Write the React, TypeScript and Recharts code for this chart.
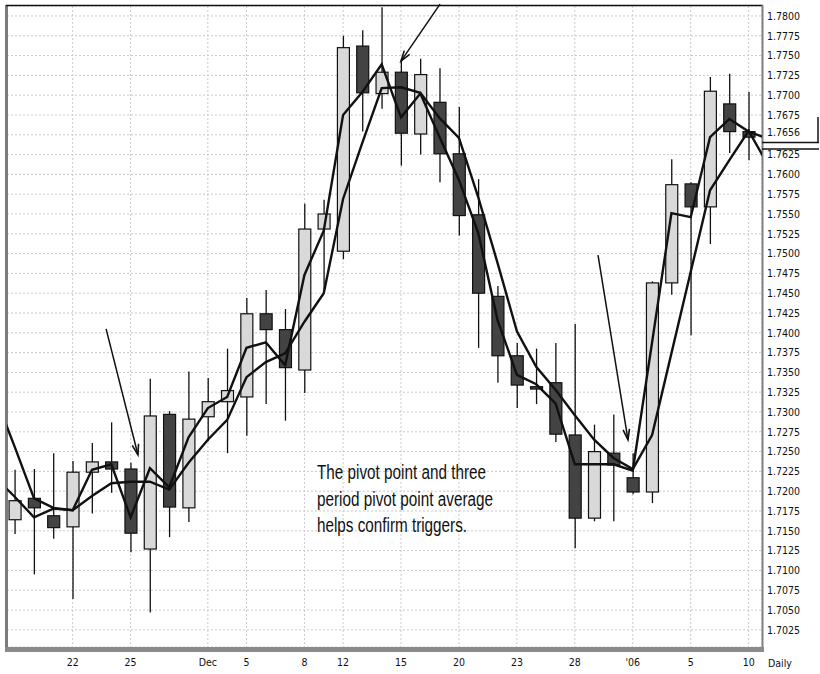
import React from 'react';
import {
  ComposedChart,
  Bar,
  Line,
  XAxis,
  YAxis,
  CartesianGrid,
  ReferenceLine,
  Customized,
} from 'recharts';

// daily candles, one per trading day (Nov 17 .. Jan 10)
const open = [1.7164, 1.7191, 1.7169, 1.7155, 1.7224, 1.7237, 1.7228, 1.7127, 1.7297, 1.7179, 1.7294, 1.7313, 1.7319, 1.7424, 1.7404, 1.7353, 1.7531, 1.7503, 1.7762, 1.7702, 1.7729, 1.7651, 1.7691, 1.7626, 1.7549, 1.7446, 1.7371, 1.7332, 1.7337, 1.7271, 1.7166, 1.7248, 1.7217, 1.7199, 1.7463, 1.7588, 1.7559, 1.7689, 1.7654];
const high = [1.7227, 1.7228, 1.7248, 1.7238, 1.7261, 1.7287, 1.7236, 1.7342, 1.7301, 1.7351, 1.7343, 1.738, 1.7444, 1.7454, 1.743, 1.7563, 1.7568, 1.7775, 1.7782, 1.7811, 1.7743, 1.7746, 1.7734, 1.7685, 1.7594, 1.7459, 1.7387, 1.738, 1.7387, 1.7411, 1.7284, 1.7297, 1.7248, 1.7465, 1.7619, 1.759, 1.7723, 1.7727, 1.7704];
const low = [1.7146, 1.7095, 1.714, 1.7064, 1.7172, 1.7198, 1.7123, 1.7047, 1.7142, 1.7161, 1.7263, 1.7248, 1.727, 1.731, 1.7289, 1.7324, 1.7454, 1.7493, 1.7654, 1.7683, 1.7611, 1.7625, 1.759, 1.7523, 1.7381, 1.7337, 1.7305, 1.731, 1.7262, 1.7128, 1.7162, 1.7162, 1.7196, 1.7185, 1.7448, 1.7397, 1.7512, 1.7627, 1.7618];
const close = [1.7188, 1.7179, 1.7154, 1.7224, 1.7237, 1.7228, 1.7147, 1.7295, 1.718, 1.7291, 1.7313, 1.7327, 1.7424, 1.7404, 1.7356, 1.7531, 1.755, 1.776, 1.7703, 1.7729, 1.7652, 1.7726, 1.7626, 1.7548, 1.745, 1.7371, 1.7334, 1.7329, 1.7272, 1.7166, 1.725, 1.7233, 1.7199, 1.7463, 1.7587, 1.7559, 1.7705, 1.7654, 1.7647];

// pivot point and its 3 period average, one extra day on each side (clipped off)
const pivot = [1.7217, 1.7193, 1.7167, 1.7178, 1.7176, 1.7227, 1.7234, 1.7167, 1.7229, 1.7205, 1.7268, 1.7305, 1.7319, 1.7381, 1.7388, 1.7359, 1.7473, 1.7529, 1.7675, 1.7704, 1.7739, 1.7672, 1.7702, 1.7647, 1.7593, 1.7526, 1.7416, 1.7347, 1.7335, 1.7311, 1.7234, 1.7234, 1.7234, 1.7226, 1.7388, 1.7551, 1.7546, 1.7647, 1.767, 1.7654, 1.7645];
const pivotAvg = [1.7319, 1.7256, 1.7191, 1.7179, 1.7176, 1.7194, 1.721, 1.7212, 1.7212, 1.7202, 1.7236, 1.7265, 1.729, 1.7344, 1.7363, 1.7374, 1.7414, 1.745, 1.7569, 1.764, 1.7709, 1.771, 1.7703, 1.7671, 1.7646, 1.7571, 1.7488, 1.7402, 1.7357, 1.7328, 1.7296, 1.7265, 1.7242, 1.7228, 1.7271, 1.7374, 1.7477, 1.758, 1.7618, 1.7655, 1.7612];

const tickDays = [3, 6, 10, 12, 15, 17, 20, 23, 26, 29, 32, 35, 38];
const tickLabels = ['22', '25', 'Dec', '5', '8', '12', '15', '20', '23', '28', "'06", '5', '10'];

const priceTicks = [1.7025, 1.705, 1.7075, 1.71, 1.7125, 1.715, 1.7175, 1.72, 1.7225, 1.725, 1.7275, 1.73, 1.7325, 1.735, 1.7375, 1.74, 1.7425, 1.745, 1.7475, 1.75, 1.7525, 1.755, 1.7575, 1.76, 1.7625, 1.765, 1.7675, 1.77, 1.7725, 1.775, 1.7775, 1.78];

const lastPrice = 1.7656;

const arrows = [
  { from: [4.73, 1.7405], to: [6.38, 1.7246] },
  { from: [22.02, 1.7815], to: [20.0, 1.7743] },
  { from: [30.2, 1.7498], to: [31.75, 1.7265] },
];

const note = ['The pivot point and three', 'period pivot point average', 'helps confirm triggers.'];

const rows = pivot.map((p, k) => {
  const i = k - 1;
  const has = i >= 0 && i < open.length;
  return {
    day: i,
    open: has ? open[i] : null,
    high: has ? high[i] : null,
    low: has ? low[i] : null,
    close: has ? close[i] : null,
    pivot: p,
    avg: pivotAvg[k],
  };
});

const axisFont = { fontFamily: '"DejaVu Sans Condensed", "DejaVu Sans", sans-serif', fontSize: 10.5, fill: '#111' };

const Candle = (props: any) => {
  const { x, y, width, height, payload } = props;
  if (!payload || payload.open == null || !height) return <g />;
  const { open: o, high: h, low: l, close: c } = payload;
  const ppu = height / (h - l);
  const cx = x + width / 2;
  const top = y + (h - Math.max(o, c)) * ppu;
  const bot = y + (h - Math.min(o, c)) * ppu;
  const bw = 12;
  return (
    <g>
      <line x1={cx} x2={cx} y1={y} y2={y + height} stroke="#111" strokeWidth={1.3} />
      <rect
        x={cx - bw / 2}
        y={top}
        width={bw}
        height={Math.max(bot - top, 1.5)}
        fill={c >= o ? '#d9d9d9' : '#434343'}
        stroke="#111"
        strokeWidth={1.2}
      />
    </g>
  );
};

const Arrow = (props: any) => {
  const { x1, y1, x2, y2 } = props;
  const ang = Math.atan2(y2 - y1, x2 - x1);
  const len = 11;
  const spread = 0.3;
  const ax = x2 - len * Math.cos(ang - spread);
  const ay = y2 - len * Math.sin(ang - spread);
  const bx = x2 - len * Math.cos(ang + spread);
  const by = y2 - len * Math.sin(ang + spread);
  return (
    <g>
      <line x1={x1} y1={y1} x2={x2} y2={y2} stroke="#111" strokeWidth={1.5} />
      <polyline points={`${ax},${ay} ${x2},${y2} ${bx},${by}`} fill="none" stroke="#111" strokeWidth={1.6} />
    </g>
  );
};

const Overlay = () => (
  <g>
    {/* frame */}
    <line x1={6.5} x2={6.5} y1={5} y2={652} stroke="#7c7c7c" strokeWidth={3} />
    <line x1={6} x2={763} y1={5.5} y2={5.5} stroke="#111" strokeWidth={1.5} />
    <line x1={762.5} x2={762.5} y1={5} y2={652} stroke="#808080" strokeWidth={2} />
    <line x1={5} x2={764} y1={649.5} y2={649.5} stroke="#8a8a8a" strokeWidth={5} />
    {/* last price marker */}
    <rect x={764} y={117} width={54} height={32} fill="#fff" />
    <line x1={818} x2={818} y1={117} y2={143} stroke="#111" strokeWidth={1.5} />
    <line x1={762} x2={819} y1={142.5} y2={142.5} stroke="#111" strokeWidth={1.6} />
    <line x1={762} x2={819} y1={149} y2={149} stroke="#111" strokeWidth={1.4} />
    <text x={767} y={136} {...axisFont}>
      {lastPrice.toFixed(4)}
    </text>
    <text x={768} y={667} {...axisFont}>
      Daily
    </text>
    {/* annotation */}
    <text fontFamily='"Liberation Sans", Arial, sans-serif' fontSize={20} fill="#111">
      <tspan x={317} y={479} textLength={169} lengthAdjust="spacingAndGlyphs">{note[0]}</tspan>
      <tspan x={317} y={506} textLength={176} lengthAdjust="spacingAndGlyphs">{note[1]}</tspan>
      <tspan x={317} y={532} textLength={150} lengthAdjust="spacingAndGlyphs">{note[2]}</tspan>
    </text>
  </g>
);

export default function App() {
  return (
    <div style={{ position: 'absolute', left: 0, top: 0, width: 820, height: 674, background: '#fff' }}>
      <ComposedChart width={820} height={674} data={rows} margin={{ top: 6, left: 7, right: 0, bottom: 0 }}>
        <CartesianGrid stroke="#c9c9c9" strokeDasharray="2 2" />
        <XAxis
          dataKey="day"
          type="number"
          domain={[-0.4, 38.69]}
          allowDataOverflow
          ticks={tickDays}
          interval={0}
          tickFormatter={(v: number) => tickLabels[tickDays.indexOf(v)] ?? ''}
          tickLine={false}
          axisLine={false}
          tickMargin={6}
          height={27}
          tick={axisFont}
        />
        <YAxis
          orientation="right"
          type="number"
          domain={[1.70033, 1.78126]}
          allowDataOverflow
          ticks={priceTicks}
          interval={0}
          tickFormatter={(v: number) => (Math.abs(v - 1.765) < 1e-6 ? '' : v.toFixed(4))}
          tickLine={false}
          axisLine={false}
          tickSize={0}
          tickMargin={5}
          width={58}
          tick={axisFont}
        />
        <Bar
          dataKey={(d: any) => (d.low == null ? null : [d.low, d.high])}
          barSize={12}
          shape={<Candle />}
          isAnimationActive={false}
        />
        <Line type="linear" dataKey="avg" stroke="#111" strokeWidth={2.4} dot={false} isAnimationActive={false} />
        <Line type="linear" dataKey="pivot" stroke="#111" strokeWidth={2.4} dot={false} isAnimationActive={false} />
        {arrows.map((a, k) => (
          <ReferenceLine
            key={k}
            segment={[
              { x: a.from[0], y: a.from[1] },
              { x: a.to[0], y: a.to[1] },
            ]}
            ifOverflow="visible"
            shape={Arrow}
          />
        ))}
        <Customized component={Overlay} />
      </ComposedChart>
    </div>
  );
}
